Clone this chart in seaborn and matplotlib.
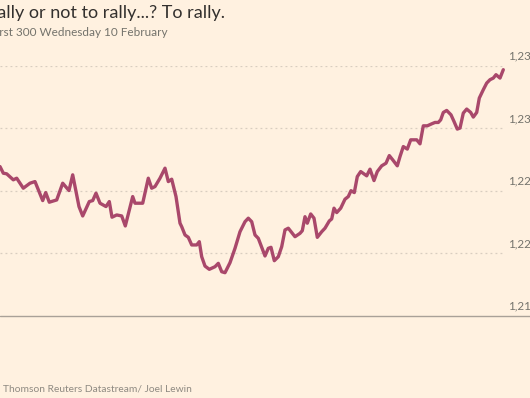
import matplotlib
matplotlib.use("Agg")
import matplotlib.pyplot as plt
import matplotlib.transforms as mtransforms
import seaborn as sns
import pandas as pd

# ---- data (intraday index level, FTSEurofirst 300) ----
step = [0, 3.3, 6.7, 13.3, 16.7, 23.3, 30, 35, 42.7, 45.7, 49.3, 56.7, 62.7, 69, 72.7,
        79, 82.7, 89.3, 92.7, 96, 100, 106, 109.3, 112, 116.7, 121.7, 125.3, 132.7, 135,
        142.7, 148.3, 151.7, 155, 160, 165, 168.3, 171.7, 176, 180, 181.7, 185, 188.3,
        191.7, 196.7, 199.3, 201.7, 205, 209.3, 215, 218.3, 221.7, 225, 230, 235, 240,
        245, 248.3, 251.7, 255, 258.3, 265, 268.3, 271, 274.3, 278.3, 281.7, 285, 288.3,
        295, 300, 302.3, 305, 307.3, 310.7, 314, 317.3, 321.7, 325, 329.3, 331.7, 334,
        336.7, 340.7, 345, 348.3, 351, 354.3, 357.3, 360.7, 366.7, 370, 374, 377.3, 381.7,
        386, 389.3, 392.7, 397.3, 400, 403.3, 407.3, 410.7, 416.7, 420, 423.3, 427.3,
        431.7, 435, 438.3, 440.7, 443.3, 446.7, 451, 454, 457.3, 460, 463.3, 466.7, 470.7,
        473.3, 476.7, 479.3, 483.3, 486.7, 490, 493.3, 496, 500, 503.3]
level = [1226.93, 1226.40, 1226.35, 1225.87, 1226.00, 1225.20, 1225.60, 1225.73, 1224.21,
         1224.85, 1224.08, 1224.26, 1225.60, 1225.01, 1226.27, 1223.73, 1222.98, 1224.13,
         1224.21, 1224.80, 1224.00, 1223.73, 1224.13, 1222.88, 1223.06, 1222.98, 1222.18,
         1224.53, 1224.00, 1224.00, 1226.00, 1225.20, 1225.33, 1226.00, 1226.80, 1225.73,
         1225.92, 1224.53, 1222.40, 1222.12, 1221.46, 1221.27, 1220.66, 1220.66, 1220.92,
         1219.72, 1218.97, 1218.71, 1218.92, 1219.19, 1218.52, 1218.44, 1219.24, 1220.39,
         1221.72, 1222.52, 1222.80, 1222.52, 1221.46, 1221.19, 1219.78, 1220.39, 1220.47,
         1219.40, 1219.72, 1220.52, 1221.86, 1222.00, 1221.32, 1221.59, 1221.80, 1222.92,
         1222.40, 1223.14, 1222.80, 1221.27, 1221.72, 1222.00, 1222.58, 1222.74, 1223.60,
         1223.25, 1223.60, 1224.32, 1224.53, 1225.00, 1224.85, 1226.13, 1226.53, 1226.19,
         1226.72, 1225.81, 1226.53, 1226.99, 1227.20, 1227.81, 1227.47, 1226.99, 1227.73,
         1228.53, 1228.33, 1229.07, 1229.07, 1228.75, 1230.19, 1230.19, 1230.35, 1230.46,
         1230.46, 1230.67, 1231.26, 1231.42, 1231.07, 1230.54, 1229.93, 1230.01, 1231.21,
         1231.53, 1231.26, 1230.89, 1231.26, 1232.41, 1233.08, 1233.61, 1233.88, 1234.01,
         1234.28, 1234.01, 1234.68]
tick_values = [1215, 1220, 1225, 1230, 1235]
tick_labels = ["1,215", "1,220", "1,225", "1,230", "1,235"]

title = "Rally or not to rally...? To rally."
subtitle = "FTSEurofirst 300 Wednesday 10 February"
source = "Thomson Reuters Datastream/ Joel Lewin"

BG = "#fff1e0"
LINE = "#a9486b"
GRID = "#d8cdc0"
BASE = "#a9a198"
TXT = "#74736c"

sns.set_theme(style="white", rc={"axes.facecolor": BG, "figure.facecolor": BG})
plt.rcParams["font.family"] = ["Lato", "DejaVu Sans"]

W, H = 530, 398
fig = plt.figure(figsize=(W / 100, H / 100), dpi=100)
ax_left, ax_right = 0, 505
ax_bottom, ax_top = 315.7, 65.7
ax = fig.add_axes([ax_left / W, 1 - ax_bottom / H, (ax_right - ax_left) / W, (ax_bottom - ax_top) / H])

df = pd.DataFrame({"step": step, "level": level})
sns.lineplot(data=df, x="step", y="level", ax=ax, color=LINE, linewidth=2.4,
             solid_joinstyle="round", solid_capstyle="round", zorder=3)
for ln in ax.lines:
    ln.set_clip_on(False)

ax.set_xlim(0, 505)
ax.set_ylim(1215, 1235)
ax.set_xlabel("")
ax.set_ylabel("")
ax.set_xticks([])
ax.set_yticks([])
for s in ax.spines.values():
    s.set_visible(False)

# gridlines
for v in tick_values[1:]:
    ax.axhline(v, color=GRID, linestyle=(0, (1.5, 2.5)), linewidth=0.9, zorder=1)

# baseline spanning full width
trans_base = mtransforms.blended_transform_factory(fig.transFigure, ax.transData)
ax.plot([0, 1], [tick_values[0], tick_values[0]], transform=trans_base, color=BASE,
        linewidth=1.0, clip_on=False, zorder=2)

# tick labels above gridlines, at right
lab_trans = mtransforms.blended_transform_factory(fig.transFigure, ax.transData) + \
    mtransforms.ScaledTranslation(0, 4 / 100, fig.dpi_scale_trans)
for v, t in zip(tick_values, tick_labels):
    ax.text(508 / W, v, t, transform=lab_trans, ha="left", va="bottom",
            fontsize=8.4, color=TXT, clip_on=False)

fig.text(225 / W, 1 - 18.3 / H, title, ha="right", va="baseline", fontsize=13.0, color="#33302e")
fig.text(168 / W, 1 - 36 / H, subtitle, ha="right", va="baseline", fontsize=8.45, color=TXT)
fig.text(2.7 / W, 1 - 392 / H, source, ha="left", va="baseline", fontsize=7.4, color="#8f8a82")

fig.savefig("out.png", dpi=100, facecolor=BG)
